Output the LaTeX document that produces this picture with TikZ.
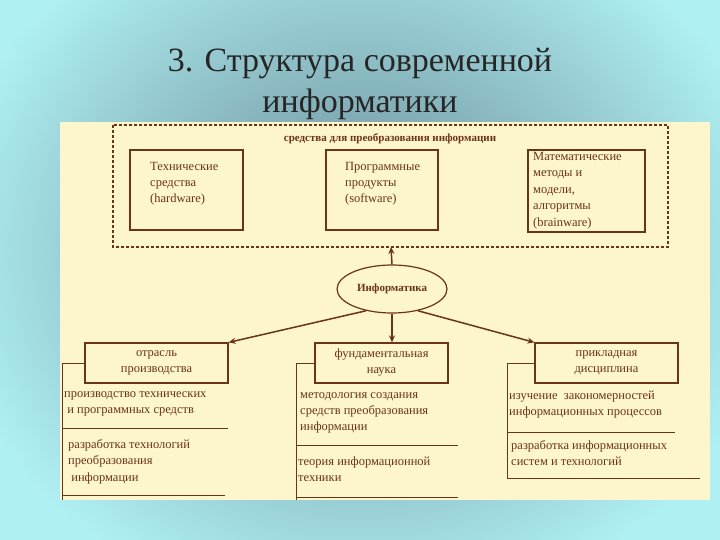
\documentclass[tikz,border=0pt]{standalone}
\usepackage{fontspec}
\setmainfont{Liberation Serif}
\usetikzlibrary{arrows.meta,shapes.geometric}
\definecolor{br}{HTML}{6A3418}
\definecolor{pan}{HTML}{FDF5CC}
\definecolor{bgout}{RGB}{175,240,242}
\definecolor{bgin}{RGB}{105,135,148}
\tikzset{
 t/.style={text=br,font=\fontsize{12.5}{16}\selectfont,align=left,inner sep=0},
 tc/.style={t,align=center},
 bx/.style={draw=br,line width=1.2pt},
 ln/.style={draw=br,line width=1pt},
 ar/.style={draw=br,line width=1.5pt,-{Stealth[length=7pt,width=6pt]}}
}
\begin{document}
\begin{tikzpicture}[x=1pt,y=-1pt]
\useasboundingbox (0,0) rectangle (720,540);
\fill[bgout] (0,0) rectangle (720,540);
\shade[inner color=bgin,outer color=bgout] (-60,-120) rectangle (780,620);
\node[font=\fontspec{Liberation Serif}\fontsize{34}{36}\selectfont,text=black!85] (title1) at (360,64) {3. Структура современной};
\node[font=\fontspec{Liberation Serif}\fontsize{34}{36}\selectfont,text=black!85] (title2) at (360,104) {информатики};
\fill[pan] (60,122) rectangle (710,500);
% dashed group
\draw[br,line width=1.5pt,dash pattern=on 3pt off 2pt] (113,125) rectangle (668,247);
\node[t,font=\bfseries\fontsize{11}{12}\selectfont] (lab) at (390,139) {средства для преобразования информации};
\draw[bx] (130,150) rectangle (243,230);
\draw[bx] (326,150) rectangle (438,230);
\draw[bx] (528,150) rectangle (645,232);
\node[t,anchor=north west] (hw) at (150,162) {Технические\\средства\\(hardware)};
\node[t,anchor=north west] (sw) at (345,162) {Программные\\продукты\\(software)};
\node[t,anchor=north west,font=\fontsize{12.5}{16.5}\selectfont] (bw) at (533,152) {Математические\\методы и\\модели,\\алгоритмы\\(brainware)};
\coordinate (grp) at (391,247);
% ellipse
\node[ellipse,draw=br,line width=1.2pt,minimum width=110pt,minimum height=48pt,inner sep=0,text=br,font=\bfseries\fontsize{11}{12}\selectfont] (inf) at (392,289) {Информатика};
\draw[ar] (inf.north) -- (grp);
% lower boxes
\node[bx,tc,minimum width=143pt,minimum height=40pt] (L) at (156.5,363) {отрасль\\производства};
\node[bx,tc,minimum width=133pt,minimum height=40pt] (M) at (381.5,363) {фундаментальная\\наука};
\node[bx,tc,minimum width=143pt,minimum height=40pt] (R) at (606.5,363) {прикладная\\дисциплина};
\draw[ar] (inf.-140) -- (L.north east);
\draw[ar] (inf.south) -- (inf.south |- M.north);
\draw[ar] (inf.-40) -- (R.north west);
% left column
\draw[ln] (L.west) -- (62,363) -- (62,500);
\node[t,anchor=north west] at (64,391) {производство технических\\\ и программных средств};
\draw[ln] (62,428) -- (228,428);
\node[t,anchor=north west,font=\fontsize{12.5}{16.5}\selectfont] at (68,439) {разработка технологий\\преобразования\\\ информации};
\draw[ln] (62,495) -- (225,495);
% middle column
\draw[ln] (M.west) -- (296,363) -- (296,500);
\node[t,anchor=north west] at (300,392) {методология создания\\ средств преобразования\\ информации};
\draw[ln] (296,445) -- (458,445);
\node[t,anchor=north west] at (298,457) {теория информационной\\техники};
\draw[ln] (296,497) -- (458,497);
% right column
\draw[ln] (R.west) -- (507,363) -- (507,478);
\node[t,anchor=north west] at (509,391) {изучение\ \ закономерностей\\информационных процессов};
\draw[ln] (507,432) -- (675,432);
\node[t,anchor=north west] at (511,440) {разработка информационных\\систем и технологий};
\draw[ln] (507,478) -- (700,478);
\end{tikzpicture}
\end{document}
